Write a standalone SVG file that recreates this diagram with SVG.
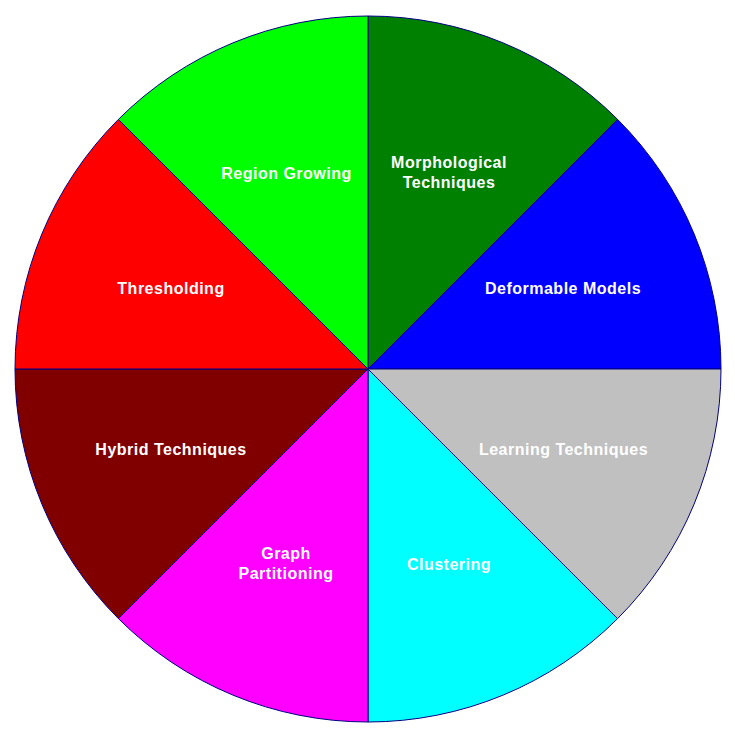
<svg xmlns="http://www.w3.org/2000/svg" width="735" height="745" viewBox="0 0 735 745">
<style>
.s{stroke:#000080;stroke-width:1}
.t{font-family:"Liberation Sans",Arial,sans-serif;font-weight:bold;font-size:16px;fill:#ffffff;text-anchor:middle;letter-spacing:0.5px}
</style>
<rect width="735" height="745" fill="#ffffff"/>
<g id="morphological"><path class="s" fill="#008000" d="M368,369 L368,16 A353,353 0 0 1 617.6,119.4 Z"/><text class="t" x="449" y="167.5">Morphological</text><text class="t" x="449" y="187.5">Techniques</text></g>
<g id="deformable"><path class="s" fill="#0000ff" d="M368,369 L617.6,119.4 A353,353 0 0 1 721,369 Z"/><text class="t" x="563" y="293.5">Deformable Models</text></g>
<g id="learning"><path class="s" fill="#c0c0c0" d="M368,369 L721,369 A353,353 0 0 1 617.6,618.6 Z"/><text class="t" x="563.5" y="454.5">Learning Techniques</text></g>
<g id="clustering"><path class="s" fill="#00ffff" d="M368,369 L617.6,618.6 A353,353 0 0 1 368,722 Z"/><text class="t" x="449" y="570">Clustering</text></g>
<g id="graph"><path class="s" fill="#ff00ff" d="M368,369 L368,722 A353,353 0 0 1 118.4,618.6 Z"/><text class="t" x="286" y="558.5">Graph</text><text class="t" x="286" y="578.5">Partitioning</text></g>
<g id="hybrid"><path class="s" fill="#800000" d="M368,369 L118.4,618.6 A353,353 0 0 1 15,369 Z"/><text class="t" x="171" y="455">Hybrid Techniques</text></g>
<g id="thresholding"><path class="s" fill="#ff0000" d="M368,369 L15,369 A353,353 0 0 1 118.4,119.4 Z"/><text class="t" x="171" y="293.5">Thresholding</text></g>
<g id="region"><path class="s" fill="#00ff00" d="M368,369 L118.4,119.4 A353,353 0 0 1 368,16 Z"/><text class="t" x="286.5" y="178.5">Region Growing</text></g>
<g id="connectors"></g>
</svg>
